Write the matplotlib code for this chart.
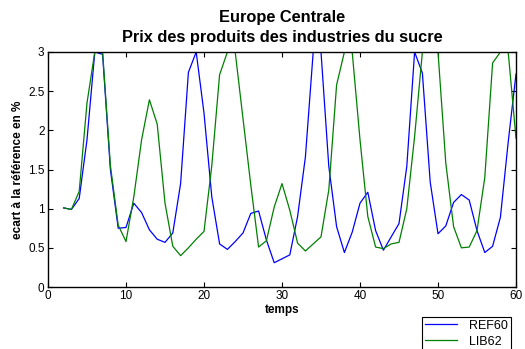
import matplotlib
matplotlib.use("Agg")
import matplotlib.pyplot as plt
import numpy as np

plt.rcParams['font.family'] = ['Liberation Sans', 'DejaVu Sans']

# temps (années)
temps = list(range(2, 61))

# écart à la référence en % (valeurs écrêtées à 3)
ref60 = [1.01, 0.99, 1.13, 1.88, 3.0, 2.97, 1.5, 0.75, 0.76, 1.07,
         0.95, 0.73, 0.61, 0.57, 0.69, 1.32, 2.74, 3.0, 2.22, 1.15,
         0.55, 0.48, 0.58, 0.69, 0.94, 0.97, 0.60, 0.31, 0.36, 0.41,
         0.90, 1.66, 3.0, 3.0, 1.54, 0.77, 0.44, 0.70, 1.07, 1.21,
         0.72, 0.47, 0.64, 0.81, 1.54, 3.0, 2.73, 1.34, 0.68, 0.78,
         1.08, 1.18, 1.11, 0.72, 0.44, 0.52, 0.89, 1.85, 2.72]

lib62 = [1.01, 0.99, 1.22, 2.35, 3.0, 3.0, 1.55, 0.79, 0.58, 1.15,
         1.88, 2.39, 2.08, 1.07, 0.52, 0.40, 0.50, 0.61, 0.71, 1.55,
         2.71, 3.0, 3.0, 2.15, 1.3, 0.51, 0.59, 1.02, 1.32, 0.98,
         0.56, 0.46, 0.55, 0.64, 1.24, 2.58, 3.0, 3.0, 1.88, 0.90,
         0.51, 0.49, 0.55, 0.57, 1.0, 1.92, 3.0, 3.0, 3.0, 1.58,
         0.77, 0.50, 0.51, 0.72, 1.40, 2.86, 3.0, 3.0, 1.9]

fig = plt.figure(figsize=(5.25, 3.49), dpi=100)
ax = fig.add_axes([48 / 525, 1 - 287 / 349, 468 / 525, 235 / 349])

ax.plot(temps, ref60, color=(0, 0, 1), lw=0.9, label='REF60')
ax.plot(temps, lib62, color=(0, 0.5, 0), lw=0.9, label='LIB62')

ax.set_xlim(0, 60)
ax.set_ylim(0, 3)
ax.set_xticks(np.arange(0, 61, 10))
ax.set_yticks(np.arange(0, 3.01, 0.5))
ax.set_yticklabels(['0', '0.5', '1', '1.5', '2', '2.5', '3'])
ax.tick_params(direction='in', top=True, right=True, length=3.5,
               labelsize=8.5, width=0.8, pad=2.5)
for s in ax.spines.values():
    s.set_linewidth(1.0)

ax.set_xlabel('temps', fontsize=8.5, fontweight='bold', labelpad=1)
ax.set_ylabel('ecart à la référence en %', fontsize=8.5, fontweight='bold',
              labelpad=3)
ax.set_title('Europe Centrale\nPrix des produits des industries du sucre',
             fontsize=11.8, fontweight='bold', pad=7.5, linespacing=1.4)

leg = ax.legend(loc='upper left', bbox_to_anchor=(421.7 / 525, 1 - 316.7 / 349),
                bbox_transform=fig.transFigure, fontsize=9, frameon=True,
                fancybox=False, framealpha=1, edgecolor='black',
                borderpad=0.25, handlelength=2.6, handletextpad=0.9,
                labelspacing=0.3, borderaxespad=0)
leg.get_frame().set_linewidth(0.8)

fig.savefig('out.png', dpi=100)
